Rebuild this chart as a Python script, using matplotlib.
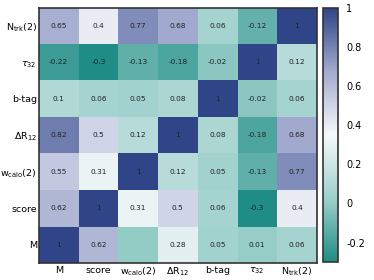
import numpy as np
import matplotlib
matplotlib.use("Agg")
import matplotlib.pyplot as plt
from matplotlib.colors import LinearSegmentedColormap

# variables, bottom row / left column first
labels = [r"M", r"score", r"w$_{\rm calo}$(2)", r"$\Delta$R$_{12}$", r"b-tag",
          r"$\tau_{32}$", r"N$_{\rm trk}$(2)"]

row_M = [1, 0.62, 0.0, 0.28, 0.05, 0.01, 0.06]
row_score = [0.62, 1, 0.31, 0.5, 0.06, -0.3, 0.4]
row_wcalo = [0.55, 0.31, 1, 0.12, 0.05, -0.13, 0.77]
row_dR = [0.82, 0.5, 0.12, 1, 0.08, -0.18, 0.68]
row_btag = [0.1, 0.06, 0.05, 0.08, 1, -0.02, 0.06]
row_tau = [-0.22, -0.3, -0.13, -0.18, -0.02, 1, 0.12]
row_ntrk = [0.65, 0.4, 0.77, 0.68, 0.06, -0.12, 1]

corr = np.array([row_M, row_score, row_wcalo, row_dR, row_btag, row_tau, row_ntrk])

cmap = LinearSegmentedColormap.from_list(
    "tealblue", ["#1f8d85", "#9dd0cb", "#f6f8fa", "#a3abcf", "#2f4587"])

fig = plt.figure(figsize=(3.74, 2.8), dpi=100)
ax = fig.add_axes([0.104, 0.061, 0.743, 0.911])
cax = fig.add_axes([0.864, 0.064, 0.040, 0.907])

im = ax.imshow(corr, cmap=cmap, vmin=-0.3, vmax=1.0, origin="lower", aspect="auto")

n = len(labels)
for i in range(n):
    for j in range(n):
        v = corr[i, j]
        if v == 0:
            continue
        ax.text(j, i, f"{v:g}", ha="center", va="center", fontsize=5.3, color="#222222")

ax.set_xticks(range(n))
ax.set_yticks(range(n))
ax.set_xticklabels(labels, fontsize=6.8)
ax.set_yticklabels(labels, fontsize=6.8)
ax.tick_params(axis="y", length=0, pad=1.5)
ax.tick_params(axis="x", length=0, pad=2)
for s in ax.spines.values():
    s.set_color("#333333")
    s.set_linewidth(1.2)

cb = fig.colorbar(im, cax=cax)
cb.set_ticks([-0.2, 0, 0.2, 0.4, 0.6, 0.8, 1])
cb.set_ticklabels(["-0.2", "0", "0.2", "0.4", "0.6", "0.8", "1"])
cb.ax.tick_params(length=0, labelsize=7, pad=6)
cb.outline.set_edgecolor("#333333")
cb.outline.set_linewidth(1.2)

fig.savefig("out.png", dpi=100)
